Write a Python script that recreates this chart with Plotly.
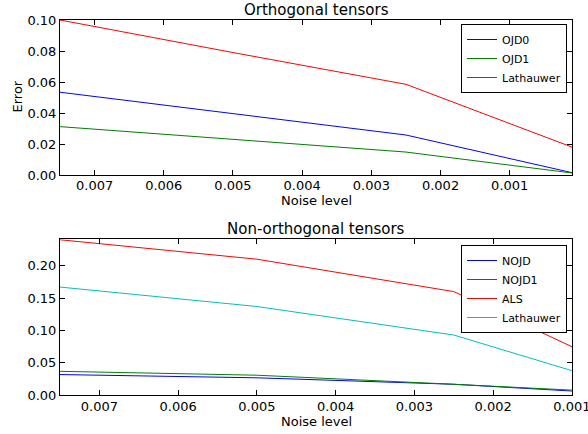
import plotly.graph_objects as go

# Orthogonal tensors
noise_top = [0.0075, 0.005, 0.0025, 0.0001]
ojd0 = [0.0534, 0.0395, 0.0258, 0.0015]
ojd1 = [0.0312, 0.0230, 0.0148, 0.0013]
lath_top = [0.1000, 0.0790, 0.0585, 0.0180]

# Non-orthogonal tensors
noise_bot = [0.0075, 0.005, 0.0025, 0.001]
nojd = [0.032, 0.027, 0.017, 0.0066]
nojd1 = [0.037, 0.031, 0.017, 0.008]
als = [0.240, 0.210, 0.160, 0.075]
lath_bot = [0.167, 0.137, 0.093, 0.038]

x_ticks = [0.007, 0.006, 0.005, 0.004, 0.003, 0.002, 0.001]
x_ticklabels = ["0.007", "0.006", "0.005", "0.004", "0.003", "0.002", "0.001"]
y_top_ticks = [0.0, 0.02, 0.04, 0.06, 0.08, 0.10]
y_top_labels = ["0.00", "0.02", "0.04", "0.06", "0.08", "0.10"]
y_bot_ticks = [0.0, 0.05, 0.10, 0.15, 0.20]
y_bot_labels = ["0.00", "0.05", "0.10", "0.15", "0.20"]

BLUE, GREEN, RED, CYAN = "#0000ff", "#008000", "#ff0000", "#00bfbf"
W, H = 588, 434
FONT = "DejaVu Sans"

def px(x):
    return x / W

def py(y):
    return 1 - y / H

fig = go.Figure()
def add(x, y, name, color, xa, ya, leg):
    fig.add_trace(go.Scatter(x=x, y=y, name=name, mode="lines",
                             line=dict(color=color, width=1),
                             xaxis=xa, yaxis=ya, legend=leg))

add(noise_top, ojd0, "OJD0", BLUE, "x", "y", "legend")
add(noise_top, ojd1, "OJD1", GREEN, "x", "y", "legend")
add(noise_top, lath_top, "Lathauwer", RED, "x", "y", "legend")
add(noise_bot, nojd, "NOJD", BLUE, "x2", "y2", "legend2")
add(noise_bot, nojd1, "NOJD1", GREEN, "x2", "y2", "legend2")
add(noise_bot, als, "ALS", RED, "x2", "y2", "legend2")
add(noise_bot, lath_bot, "Lathauwer", CYAN, "x2", "y2", "legend2")

xdom = [px(60), px(572)]
top_dom = [py(175), py(20)]
bot_dom = [py(395.3), py(239.3)]

axis_common = dict(showline=True, linecolor="black", linewidth=1, mirror="ticks",
                   ticks="inside", ticklen=5, tickcolor="black", showgrid=False,
                   zeroline=False, automargin=False, ticklabeloverflow="allow",
                   tickfont=dict(family=FONT, size=13, color="black"))

leg_common = dict(xanchor="right", yanchor="top", bordercolor="black", borderwidth=1,
                  bgcolor="white", font=dict(family=FONT, size=11), tracegroupgap=0,
                  itemwidth=30)

def ann(text, x, y, size=13, angle=0):
    return dict(text=text, x=px(x), y=py(y), xref="paper", yref="paper",
                xanchor="center", yanchor="middle", showarrow=False, textangle=angle,
                font=dict(family=FONT, size=size, color="black"))

fig.update_layout(
    width=W, height=H, margin=dict(l=0, r=0, t=0, b=0, autoexpand=False),
    plot_bgcolor="white", paper_bgcolor="white",
    font=dict(family=FONT, size=13, color="black"),
    xaxis=dict(domain=xdom, anchor="y", range=[0.0075, 0.0001], tickvals=x_ticks,
               ticktext=x_ticklabels, ticklabelstandoff=-2, **axis_common),
    yaxis=dict(domain=top_dom, anchor="x", range=[0, 0.1], tickvals=y_top_ticks,
               ticktext=y_top_labels, **axis_common),
    xaxis2=dict(domain=xdom, anchor="y2", range=[0.0075, 0.000999], tickvals=x_ticks,
                ticktext=x_ticklabels, ticklabelstandoff=-1, **axis_common),
    yaxis2=dict(domain=bot_dom, anchor="x2", range=[0, 0.2407], tickvals=y_bot_ticks,
                ticktext=y_bot_labels, **axis_common),
    legend=dict(x=px(567), y=py(24), **leg_common),
    legend2=dict(x=px(567), y=py(245), **leg_common),
    showlegend=True,
    annotations=[
        ann("Orthogonal tensors", 316, 9.5, size=15),
        ann("Non-orthogonal tensors", 316, 229, size=15),
        ann("Noise level", 316, 201),
        ann("Noise level", 316, 421),
        ann("Error", 17.5, 97, angle=-90),
    ],
)

fig.write_html("out.html", config={"displayModeBar": False},
               post_script="document.body.style.margin='0';document.body.style.padding='0';")
